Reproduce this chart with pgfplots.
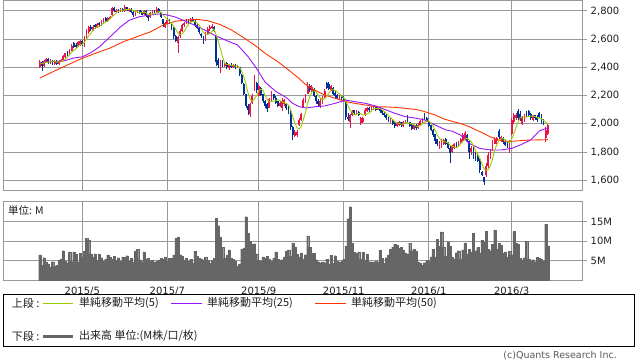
\documentclass[border=0pt]{standalone}
\usepackage{pgfplots}
\pgfplotsset{compat=1.18}
\usepackage{pgfplotstable}
\usepackage{fontspec}
\setmainfont{DejaVu Sans}
\newfontfamily\jp{Noto Sans CJK JP}
\definecolor{upc}{RGB}{235,20,70}
\definecolor{dnc}{RGB}{0,50,150}
\definecolor{mafivec}{RGB}{153,204,0}
\definecolor{matwfc}{RGB}{155,20,245}
\definecolor{mafifc}{RGB}{255,51,0}
\definecolor{gridc}{RGB}{153,153,153}
\definecolor{volc}{RGB}{102,102,102}
\definecolor{txtc}{RGB}{30,30,30}

\pgfplotstableread{
i o h l c
-20 2400 2450 2395 2440
-19 2440 2445 2375 2410
-18 2410 2455 2405 2445
-17 2440 2470 2435 2460
-16 2460 2465 2425 2435
-15 2430 2460 2425 2450
-14 2450 2455 2420 2430
-13 2425 2450 2420 2445
-12 2445 2450 2415 2425
-11 2425 2450 2420 2445
-10 2440 2460 2435 2450
-9 2450 2490 2445 2480
-8 2475 2505 2470 2500
-7 2505 2515 2480 2490
-6 2490 2530 2485 2520
-5 2520 2565 2515 2555
-4 2575 2580 2535 2545
-3 2560 2570 2535 2545
-2 2550 2590 2545 2580
-1 2560 2595 2555 2585
0 2590 2595 2555 2565
1 2550 2625 2545 2620
2 2610 2670 2605 2660
3 2650 2695 2640 2685
4 2690 2700 2660 2670
5 2665 2700 2660 2690
6 2700 2710 2675 2685
7 2685 2715 2680 2710
8 2715 2720 2690 2700
9 2700 2735 2695 2725
10 2720 2750 2715 2745
11 2750 2755 2725 2730
12 2730 2760 2725 2750
13 2745 2765 2740 2760
14 2770 2825 2765 2820
15 2820 2825 2790 2800
16 2795 2815 2785 2810
17 2810 2815 2785 2795
18 2795 2820 2790 2815
19 2815 2820 2795 2800
20 2800 2840 2795 2830
21 2825 2830 2800 2805
22 2800 2820 2795 2815
23 2815 2820 2785 2790
24 2795 2800 2760 2770
25 2770 2800 2765 2795
26 2790 2810 2785 2805
27 2805 2810 2780 2790
28 2795 2800 2770 2775
29 2780 2805 2775 2800
30 2800 2805 2755 2765
31 2770 2775 2730 2750
32 2755 2790 2750 2785
33 2785 2805 2780 2800
34 2805 2810 2785 2790
35 2790 2830 2785 2815
36 2815 2820 2785 2790
37 2790 2795 2750 2755
38 2740 2745 2690 2705
39 2690 2720 2680 2715
40 2710 2750 2705 2735
41 2740 2745 2710 2720
42 2720 2725 2665 2680
43 2680 2685 2600 2620
44 2620 2630 2580 2590
45 2570 2625 2500 2615
46 2620 2670 2610 2660
47 2660 2710 2650 2700
48 2700 2725 2690 2715
49 2710 2740 2705 2730
50 2735 2745 2710 2720
51 2720 2750 2715 2740
52 2745 2755 2720 2730
53 2730 2735 2690 2700
54 2700 2710 2670 2680
55 2680 2690 2640 2650
56 2640 2645 2610 2620
57 2620 2625 2565 2590
58 2595 2650 2590 2640
59 2640 2690 2635 2670
60 2670 2700 2660 2690
61 2680 2705 2675 2695
62 2690 2695 2650 2660
63 2625 2630 2410 2440
64 2450 2470 2395 2420
65 2385 2450 2360 2440
66 2445 2450 2400 2415
67 2410 2440 2400 2430
68 2430 2435 2390 2400
69 2395 2425 2385 2420
70 2420 2430 2395 2405
71 2400 2425 2395 2420
72 2420 2425 2390 2400
73 2400 2420 2395 2415
74 2400 2405 2340 2350
75 2345 2350 2280 2290
76 2280 2290 2205 2215
77 2210 2215 2110 2130
78 2130 2140 2065 2100
79 2070 2150 2050 2140
80 2150 2215 2140 2200
81 2240 2345 2235 2320
82 2290 2300 2220 2240
83 2200 2275 2195 2265
84 2255 2260 2195 2205
85 2210 2215 2145 2165
86 2165 2170 2115 2130
87 2140 2150 2085 2105
88 2115 2185 2110 2175
89 2170 2230 2165 2215
90 2210 2215 2170 2180
91 2180 2195 2140 2150
92 2160 2165 2120 2130
93 2130 2160 2120 2150
94 2110 2180 2090 2160
95 2140 2175 2130 2170
96 2140 2145 2095 2110
97 2120 2125 2070 2080
98 2080 2095 1960 1980
99 1975 1985 1885 1920
100 1915 1955 1905 1940
101 1920 1960 1910 1945
102 1990 2040 1985 2030
103 2030 2075 2020 2070
104 2120 2185 2110 2170
105 2160 2210 2150 2200
106 2215 2300 2210 2270
107 2265 2280 2225 2240
108 2230 2275 2220 2260
109 2250 2255 2190 2200
110 2200 2205 2140 2160
111 2165 2175 2125 2140
112 2130 2175 2115 2165
113 2150 2195 2140 2185
114 2190 2245 2180 2235
115 2290 2300 2245 2255
116 2285 2295 2240 2250
117 2240 2275 2230 2265
118 2255 2260 2205 2215
119 2220 2230 2185 2200
120 2205 2210 2175 2185
121 2180 2205 2170 2200
122 2200 2205 2170 2180
123 2185 2195 2160 2170
124 2170 2175 2030 2050
125 2050 2075 2020 2035
126 2010 2070 1970 2060
127 2060 2100 2055 2090
128 2095 2100 2065 2075
129 2070 2095 2060 2090
130 2085 2090 2055 2060
131 2005 2050 1995 2045
132 2015 2050 2005 2040
133 2060 2110 2055 2100
134 2090 2120 2085 2110
135 2115 2120 2085 2095
136 2095 2125 2090 2115
137 2100 2130 2095 2120
138 2120 2125 2090 2100
139 2100 2125 2095 2115
140 2115 2120 2080 2090
141 2095 2100 2065 2075
142 2080 2085 2050 2060
143 2060 2070 2030 2040
144 2045 2050 2010 2020
145 2010 2040 2005 2030
146 2030 2035 1990 2000
147 2005 2010 1970 1985
148 1985 2010 1975 2000
149 1990 2020 1985 2010
150 2010 2015 1980 1990
151 1985 2020 1980 2010
152 2005 2030 2000 2025
153 2040 2060 2005 2010
154 2010 2015 1975 1985
155 1990 2000 1960 1965
156 1965 1995 1955 1990
157 1990 2000 1960 1970
158 1970 2005 1965 1995
159 1995 2030 1990 2020
160 2010 2040 2005 2030
161 2060 2075 2030 2040
162 2040 2050 2010 2020
163 2010 2020 1975 1985
164 1990 1995 1950 1960
165 1960 1965 1905 1920
166 1925 1930 1860 1880
167 1890 1895 1845 1860
168 1835 1880 1820 1870
169 1845 1890 1830 1880
170 1860 1895 1850 1885
171 1890 1900 1850 1860
172 1865 1870 1820 1830
173 1830 1840 1720 1790
174 1800 1850 1790 1840
175 1830 1865 1820 1855
176 1860 1870 1830 1840
177 1845 1880 1840 1870
178 1870 1900 1860 1890
179 1880 1935 1870 1920
180 1900 1950 1890 1935
181 1920 1930 1870 1880
182 1880 1885 1750 1800
183 1800 1840 1780 1830
184 1830 1840 1750 1780
185 1790 1800 1735 1760
186 1780 1790 1730 1740
187 1740 1750 1650 1670
188 1660 1665 1630 1640
189 1620 1625 1565 1590
190 1640 1720 1625 1700
191 1700 1800 1690 1780
192 1760 1820 1750 1810
193 1820 1885 1810 1880
194 1860 1905 1855 1895
195 1880 1910 1860 1900
196 1950 1965 1895 1905
197 1880 1915 1870 1905
198 1900 1910 1860 1870
199 1875 1885 1840 1850
200 1860 1870 1830 1840
201 1830 1885 1790 1870
202 1930 2040 1920 2030
203 2010 2075 2000 2060
204 2040 2080 2030 2065
205 2090 2105 2030 2040
206 2070 2090 2020 2030
207 2000 2055 1990 2050
208 2020 2070 2010 2060
209 2080 2090 2050 2060
210 2090 2100 2050 2060
211 2070 2080 2030 2040
212 2030 2065 2020 2055
213 2060 2065 2030 2040
214 2050 2060 2015 2025
215 2080 2085 2040 2050
216 2060 2070 2000 2010
217 2030 2035 1995 2000
218 1900 1975 1870 1960
219 1930 2000 1920 1995
}\candles

\pgfplotstableread{
i m
-20 2425
-19 2428
-18 2432
-17 2436
-16 2438
-15 2440
-14 2444
-13 2444
-12 2437
-11 2439
-10 2439
-9 2449
-8 2460
-7 2473
-6 2488
-5 2509
-4 2522
-3 2531
-2 2549
-1 2562
0 2564
1 2579
2 2602
3 2623
4 2640
5 2665
6 2678
7 2688
8 2691
9 2702
10 2713
11 2722
12 2730
13 2742
14 2761
15 2772
16 2788
17 2797
18 2808
19 2804
20 2810
21 2809
22 2813
23 2808
24 2802
25 2795
26 2795
27 2790
28 2787
29 2793
30 2787
31 2776
32 2775
33 2780
34 2778
35 2788
36 2796
37 2790
38 2771
39 2756
40 2740
41 2726
42 2711
43 2694
44 2669
45 2645
46 2633
47 2637
48 2656
49 2684
50 2705
51 2721
52 2727
53 2724
54 2714
55 2700
56 2676
57 2648
58 2636
59 2634
60 2642
61 2657
62 2671
63 2631
64 2581
65 2531
66 2475
67 2429
68 2421
69 2421
70 2414
71 2415
72 2409
73 2412
74 2398
75 2375
76 2334
77 2280
78 2217
79 2175
80 2157
81 2178
82 2200
83 2233
84 2246
85 2239
86 2201
87 2174
88 2156
89 2158
90 2161
91 2165
92 2170
93 2165
94 2154
95 2152
96 2144
97 2134
98 2100
99 2052
100 2006
101 1973
102 1963
103 1981
104 2031
105 2083
106 2148
107 2190
108 2228
109 2234
110 2226
111 2200
112 2185
113 2170
114 2177
115 2196
116 2218
117 2238
118 2244
119 2237
120 2223
121 2213
122 2196
123 2187
124 2157
125 2127
126 2099
127 2081
128 2062
129 2070
130 2075
131 2072
132 2062
133 2067
134 2071
135 2078
136 2092
137 2108
138 2108
139 2109
140 2108
141 2100
142 2088
143 2076
144 2057
145 2045
146 2030
147 2015
148 2007
149 2005
150 1997
151 1999
152 2007
153 2009
154 2004
155 1999
156 1995
157 1984
158 1981
159 1988
160 2001
161 2011
162 2021
163 2019
164 2007
165 1985
166 1953
167 1921
168 1898
169 1882
170 1875
171 1871
172 1865
173 1849
174 1841
175 1835
176 1831
177 1839
178 1859
179 1875
180 1891
181 1899
182 1885
183 1873
184 1845
185 1810
186 1782
187 1756
188 1718
189 1680
190 1668
191 1676
192 1704
193 1752
194 1813
195 1853
196 1878
197 1897
198 1895
199 1886
200 1874
201 1867
202 1892
203 1930
204 1973
205 2013
206 2045
207 2049
208 2049
209 2048
210 2052
211 2054
212 2055
213 2051
214 2044
215 2042
216 2036
217 2025
218 2009
219 2003
}\mafive

\pgfplotstableread{
i m
-20 2436
-9 2445
-4 2467
0 2475
4 2505
8 2545
13 2616
18 2688
22 2734
27 2760
32 2772
36 2779
40 2772
44 2756
51 2712
56 2677
62 2630
69 2583
73 2560
78 2476
82 2392
86 2296
91 2230
96 2186
99 2145
102 2122
105 2113
110 2122
114 2127
119 2146
124 2168
128 2158
133 2146
138 2127
143 2098
147 2075
152 2051
157 2040
161 2028
166 1992
171 1957
174 1948
178 1920
182 1862
187 1826
192 1815
197 1815
202 1826
206 1850
211 1886
215 1950
219 1972
}\matwf

\pgfplotstableread{
i m
-20 2325
-12 2382
-4 2438
0 2465
7 2505
13 2537
19 2580
25 2614
32 2652
38 2700
44 2728
49 2736
54 2741
59 2731
65 2703
70 2667
76 2610
81 2559
86 2500
92 2441
97 2382
101 2334
105 2280
109 2242
114 2205
119 2181
124 2158
128 2146
133 2134
138 2122
143 2120
147 2117
152 2110
157 2102
161 2087
166 2063
170 2035
174 2018
178 2002
182 1980
187 1945
192 1908
195 1888
200 1874
205 1880
210 1885
219 1888
}\mafif

\pgfplotstableread{
i v
-20 6.5
-19 3.8
-18 5.8
-17 4.6
-16 4.2
-15 3.4
-14 4.8
-13 3.6
-12 3.8
-11 5.2
-10 5.5
-9 7.6
-8 4.9
-7 4.5
-6 7.3
-5 4.8
-4 7.3
-3 6.8
-2 4.7
-1 6.9
0 6.0
1 7.4
2 10.8
3 10.3
4 6.8
5 5.9
6 6.8
7 5.2
8 6.7
9 5.8
10 5.0
11 5.4
12 6.5
13 5.9
14 5.5
15 6.2
16 5.1
17 5.8
18 4.9
19 6.0
20 5.9
21 6.3
22 5.0
23 5.6
24 4.6
25 7.5
26 8.0
27 5.3
28 4.8
29 7.3
30 5.5
31 5.6
32 5.0
33 5.2
34 4.6
35 5.0
36 5.2
37 5.6
38 5.4
39 6.0
40 4.9
41 5.6
42 5.6
43 6.5
44 10.8
45 11.1
46 6.6
47 6.1
48 5.1
49 5.7
50 4.9
51 5.4
52 4.4
53 7.5
54 6.2
55 5.7
56 5.5
57 5.3
58 6.0
59 5.2
60 4.3
61 5.2
62 5.6
63 15.9
64 14.0
65 11.0
66 8.5
67 5.6
68 6.4
69 7.8
70 5.6
71 5.4
72 5.0
73 3.6
74 4.2
75 8.0
76 8.3
77 16.3
78 12.0
79 10.0
80 9.2
81 9.4
82 6.8
83 5.2
84 5.0
85 6.0
86 5.6
87 6.2
88 5.4
89 4.9
90 5.6
91 7.3
92 5.4
93 5.1
94 5.3
95 6.0
96 7.5
97 7.8
98 6.2
99 9.6
100 8.6
101 6.8
102 6.0
103 7.0
104 5.5
105 6.6
106 11.4
107 8.6
108 7.0
109 6.9
110 5.3
111 4.8
112 4.5
113 4.7
114 4.4
115 5.4
116 4.1
117 6.4
118 4.4
119 6.3
120 5.0
121 4.6
122 5.0
123 5.4
124 8.8
125 15.8
126 18.9
127 9.5
128 7.2
129 6.9
130 7.3
131 5.4
132 7.2
133 5.2
134 6.8
135 4.8
136 4.8
137 4.7
138 4.9
139 4.6
140 7.8
141 5.6
142 4.4
143 5.8
144 6.5
145 8.0
146 8.6
147 9.3
148 9.0
149 8.3
150 8.4
151 7.8
152 7.0
153 6.8
154 9.5
155 7.6
156 7.9
157 7.4
158 4.7
159 4.4
160 3.8
161 4.5
162 5.2
163 5.0
164 6.0
165 7.9
166 6.0
167 10.5
168 8.7
169 12.4
170 8.6
171 6.2
172 9.9
173 8.7
174 6.0
175 5.5
176 7.1
177 7.6
178 5.4
179 7.8
180 9.6
181 6.8
182 8.0
183 7.3
184 12.0
185 7.6
186 8.4
187 7.0
188 10.3
189 9.8
190 12.5
191 8.0
192 7.6
193 9.2
194 12.9
195 8.0
196 9.5
197 9.0
198 7.0
199 7.3
200 6.0
201 7.5
202 6.6
203 12.5
204 9.5
205 9.3
206 5.6
207 5.3
208 5.8
209 10.0
210 5.5
211 5.0
212 5.3
213 4.8
214 5.9
215 5.7
216 5.5
217 5.0
218 14.4
219 8.8
}\vol

\begin{document}
\begin{tikzpicture}[x=1pt,y=1pt]

% ---------- price panel ----------
\begin{axis}[
  at={(3.3pt,171.3pt)}, anchor=south west, scale only axis,
  width=579.4pt, height=190pt,
  xmin=-37.16, xmax=235.4, ymin=1526.3, ymax=2873,
  xtick={0,40,83,123,163,202}, xticklabels={},
  ytick={1600,1800,...,2800},
  xmajorgrids, ymajorgrids,
  grid style={gridc, line width=1pt},
  axis line style={gridc, line width=1pt},
  xtick style={draw=none},
  ytick style={gridc, line width=1pt},
  ytick pos=right, yticklabel pos=right,
  tick align=outside, major tick length=4.5pt,
  /pgf/number format/1000 sep={,},
  /pgf/number format/assume math mode=true,
  yticklabel style={font=\fontsize{10}{12}\selectfont, text=txtc},
]
\addplot[forget plot, draw=none, mark=none,
  restrict expr to domain={\thisrow{c}-\thisrow{o}}{0:100000},
  error bars/.cd, y dir=minus, y explicit, error mark=none,
  error bar style={draw=upc, line width=0.8pt}]
  table[x=i, y=h, y error minus expr={\thisrow{h}-\thisrow{l}}] {\candles};
\addplot[forget plot, draw=none, mark=none,
  restrict expr to domain={\thisrow{c}-\thisrow{o}}{0:100000},
  error bars/.cd, y dir=minus, y explicit, error mark=none,
  error bar style={draw=upc, line width=1.8pt}]
  table[x=i, y=c, y error minus expr={\thisrow{c}-\thisrow{o}}] {\candles};
\addplot[forget plot, draw=none, mark=none,
  restrict expr to domain={\thisrow{o}-\thisrow{c}}{0.5:100000},
  error bars/.cd, y dir=minus, y explicit, error mark=none,
  error bar style={draw=dnc, line width=0.8pt}]
  table[x=i, y=h, y error minus expr={\thisrow{h}-\thisrow{l}}] {\candles};
\addplot[forget plot, draw=none, mark=none,
  restrict expr to domain={\thisrow{o}-\thisrow{c}}{0.5:100000},
  error bars/.cd, y dir=minus, y explicit, error mark=none,
  error bar style={draw=dnc, line width=1.8pt}]
  table[x=i, y=o, y error minus expr={\thisrow{o}-\thisrow{c}}] {\candles};
\addplot[mafifc, line width=0.9pt, mark=none] table[x=i,y=m] {\mafif};
\addplot[matwfc, line width=0.9pt, mark=none] table[x=i,y=m] {\matwf};
\addplot[mafivec, line width=0.9pt, mark=none] table[x=i,y=m] {\mafive};
\end{axis}

% ---------- volume panel ----------
\begin{axis}[
  at={(3.3pt,81.7pt)}, anchor=south west, scale only axis,
  width=579.4pt, height=78.6pt,
  xmin=-37.16, xmax=235.4, ymin=0, ymax=20.15,
  xtick={0,40,83,123,163,202},
  xticklabels={2015/5,2015/7,2015/9,2015/11,2016/1,2016/3},
  ytick={5,10,15}, yticklabels={5M,10M,15M},
  xmajorgrids, ymajorgrids,
  grid style={gridc, line width=1pt},
  axis line style={gridc, line width=1pt},
  xtick style={draw=none},
  ytick style={gridc, line width=1pt},
  ytick pos=right, yticklabel pos=right,
  xtick pos=bottom,
  tick align=outside, major tick length=4.5pt,
  yticklabel style={font=\fontsize{10}{12}\selectfont, text=txtc},
  xticklabel style={font=\fontsize{10}{12}\selectfont, text=txtc, yshift=1pt},
]
\addplot[ybar, bar width=1, fill=volc, draw=volc, line width=0.1pt] table[x=i,y=v] {\vol};
\end{axis}

\node[anchor=west, inner sep=0, text=txtc] at (8,151) {\jp\fontsize{10.5}{12}\selectfont 単位: M};

% ---------- legend box ----------
\draw[black, line width=1pt] (3.3,15.7) rectangle (634.3,67);
\draw[draw=mafivec, line width=1.3pt] (43,58.7) -- (73,58.7);
\draw[draw=matwfc, line width=1.3pt] (171,58.7) -- (202,58.7);
\draw[draw=mafifc, line width=1.3pt] (315,58.7) -- (346,58.7);
\draw[draw=volc, line width=3pt] (43,26) -- (73,26);
\begin{scope}[every node/.style={anchor=west, inner sep=0, text=txtc, font=\jp\fontsize{11}{13}\selectfont}]
\node at (11.7,58.7) {上段 :};
\node at (79,58.7) {単純移動平均(5)};
\node at (207,58.7) {単純移動平均(25)};
\node at (351,58.7) {単純移動平均(50)};
\node at (11.7,26) {下段 :};
\node at (79,26) {出来高 単位:(M株/口/枚)};
\end{scope}

\node[anchor=east, inner sep=0, text=black!65, font=\fontsize{9.5}{11}\selectfont] at (617,6) {(c)Quants Research Inc.};

\pgfresetboundingbox
\path[use as bounding box] (0,0) rectangle (638,362);
\end{tikzpicture}
\end{document}
